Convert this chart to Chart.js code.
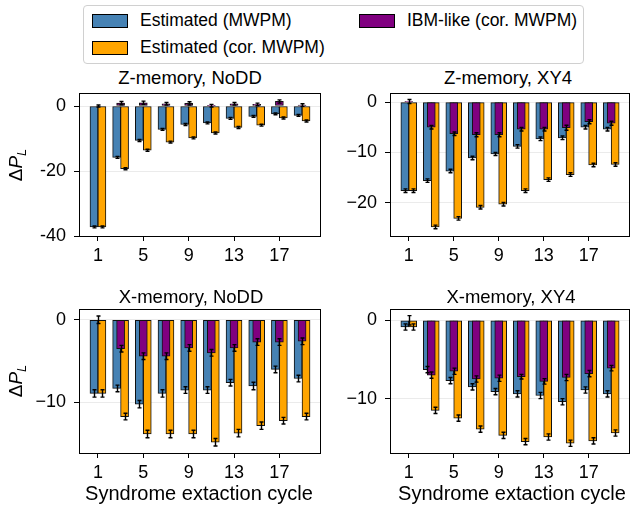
<!DOCTYPE html>
<html>
<head>
<meta charset="utf-8">
<script src="https://cdn.jsdelivr.net/npm/chart.js@4.4.1/dist/chart.umd.min.js"></script>
<style>
  body { margin: 0; background: #fff; }
  #wrap { position: relative; width: 632px; height: 506px; overflow: hidden;
          font-family: "Liberation Sans", Arial, sans-serif; color: #000; }
  canvas { position: absolute; }
  .txt { position: absolute; white-space: nowrap; line-height: 20px; }
  .title { font-size: 18.5px; transform: translateX(-50%); }
  .xlab { font-size: 20px; transform: translateX(-50%); }
  .ylab { font-size: 19px; transform: translate(-50%, -50%) rotate(-90deg); }
  .ylab i { font-style: italic; }
  .ylab sub { font-size: 13px; font-style: italic; vertical-align: -4px; }
  #legend { position: absolute; left: 83px; top: 5px; width: 499px; height: 57px;
            border: 1px solid #d0d0d0; border-radius: 4px; }
  .patch { position: absolute; width: 34px; height: 12px; border: 1px solid #000; }
  .ltext { position: absolute; font-size: 17.5px; line-height: 20px; white-space: nowrap; }
</style>
</head>
<body>
<div id="wrap">
  <div id="legend"></div>
  <canvas id="c1" width="330" height="183" style="left:0px;top:88px"></canvas>
  <canvas id="c2" width="302" height="183" style="left:330px;top:88px"></canvas>
  <canvas id="c3" width="330" height="184" style="left:0px;top:304px"></canvas>
  <canvas id="c4" width="302" height="184" style="left:330px;top:304px"></canvas>
</div>
<script>
document.addEventListener('DOMContentLoaded', function () {

    // --- DATA ---
    const cycles = [1, 3, 5, 7, 9, 11, 13, 15, 17, 19];
    const xTickValues = [1, 5, 9, 13, 17];
    const seriesNames = ['Estimated (MWPM)', 'Estimated (cor. MWPM)', 'IBM-like (cor. MWPM)'];
    const seriesColors = ['#4682b4', '#ffa500', '#800080'];

    // Z-memory, NoDD
    const zNoDD_mwpm = [-37.2, -15.8, -10.6, -7.2, -5.7, -5.2, -3.8, -3.2, -2.4, -2.9];
    const zNoDD_cor  = [-37.2, -19.3, -13.6, -11.1, -9.8, -8.3, -6.6, -5.9, -3.7, -4.6];
    const zNoDD_ibm  = [0.0, 0.9, 1.0, 0.7, 0.8, 0.1, 0.7, 0.5, 1.4, 0.3];
    const zNoDD_mwpmErr = [0.3, 0.3, 0.3, 0.3, 0.3, 0.3, 0.3, 0.3, 0.3, 0.3];
    const zNoDD_corErr  = [0.3, 0.3, 0.3, 0.3, 0.3, 0.3, 0.3, 0.3, 0.3, 0.3];
    const zNoDD_ibmErr  = [0.3, 0.5, 0.5, 0.4, 0.5, 0.4, 0.4, 0.4, 0.5, 0.4];

    // Z-memory, XY4
    const zXY4_mwpm = [-17.6, -15.6, -13.7, -11.1, -10.3, -8.8, -7.3, -7.1, -5.0, -5.4];
    const zXY4_cor  = [-17.6, -24.8, -23.1, -20.9, -20.3, -17.6, -15.4, -14.4, -12.5, -12.4];
    const zXY4_ibm  = [0.1, -5.0, -6.3, -6.5, -6.5, -5.4, -5.4, -5.1, -3.9, -4.2];
    const zXY4_mwpmErr = [0.35, 0.35, 0.35, 0.35, 0.3, 0.35, 0.35, 0.35, 0.35, 0.35];
    const zXY4_corErr  = [0.35, 0.35, 0.35, 0.35, 0.35, 0.35, 0.35, 0.35, 0.35, 0.35];
    const zXY4_ibmErr  = [0.4, 0.35, 0.35, 0.4, 0.4, 0.35, 0.35, 0.5, 0.4, 0.4];

    // X-memory, NoDD
    const xNoDD_mwpm = [-8.9, -8.3, -10.2, -8.9, -8.5, -8.5, -7.6, -8.0, -6.0, -7.1];
    const xNoDD_cor  = [-8.9, -11.7, -13.8, -13.8, -13.8, -14.8, -13.7, -12.8, -12.2, -11.7];
    const xNoDD_ibm  = [0.0, -3.5, -4.4, -4.4, -3.4, -4.0, -3.4, -2.7, -2.7, -2.6];
    const xNoDD_mwpmErr = [0.45, 0.4, 0.45, 0.45, 0.4, 0.4, 0.4, 0.45, 0.4, 0.4];
    const xNoDD_corErr  = [0.45, 0.4, 0.45, 0.45, 0.45, 0.45, 0.45, 0.45, 0.4, 0.4];
    const xNoDD_ibmErr  = [0.45, 0.4, 0.4, 0.4, 0.4, 0.4, 0.4, 0.4, 0.4, 0.4];

    // X-memory, XY4
    const xXY4_mwpm = [-0.85, -6.3, -7.7, -8.5, -9.1, -9.4, -9.6, -10.4, -8.9, -9.4];
    const xXY4_cor  = [-0.85, -11.5, -12.5, -13.9, -14.7, -15.5, -14.9, -15.7, -15.4, -14.4];
    const xXY4_ibm  = [0.0, -7.0, -6.5, -7.5, -7.4, -7.2, -7.8, -7.3, -6.8, -6.1];
    const xXY4_mwpmErr = [0.4, 0.4, 0.4, 0.4, 0.4, 0.4, 0.4, 0.4, 0.4, 0.4];
    const xXY4_corErr  = [0.4, 0.4, 0.4, 0.4, 0.4, 0.4, 0.4, 0.4, 0.4, 0.4];
    const xXY4_ibmErr  = [0.6, 0.4, 0.4, 0.4, 0.4, 0.3, 0.35, 0.4, 0.4, 0.35];

    const panels = [
        { canvas: 'c1', title: 'Z-memory, NoDD', yMin: -40, yMax: 4, yTicks: [-40, -20, 0], minus: '-',
          vals: [zNoDD_mwpm, zNoDD_cor, zNoDD_ibm], errs: [zNoDD_mwpmErr, zNoDD_corErr, zNoDD_ibmErr],
          yAxisWidth: 79, padRight: 9, titleX: 190, titleY: 68 },
        { canvas: 'c2', title: 'Z-memory, XY4', yMin: -26.6, yMax: 1.8, yTicks: [-20, -10, 0], minus: '\u2212',
          vals: [zXY4_mwpm, zXY4_cor, zXY4_ibm], errs: [zXY4_mwpmErr, zXY4_corErr, zXY4_ibmErr],
          yAxisWidth: 60, padRight: 2, titleX: 508, titleY: 68 },
        { canvas: 'c3', title: 'X-memory, NoDD', yMin: -16.1, yMax: 1.3, yTicks: [-10, 0], minus: '\u2212',
          vals: [xNoDD_mwpm, xNoDD_cor, xNoDD_ibm], errs: [xNoDD_mwpmErr, xNoDD_corErr, xNoDD_ibmErr],
          yAxisWidth: 79, padRight: 9, titleX: 191, titleY: 287 },
        { canvas: 'c4', title: 'X-memory, XY4', yMin: -16.95, yMax: 1.45, yTicks: [-10, 0], minus: '\u2212',
          vals: [xXY4_mwpm, xXY4_cor, xXY4_ibm], errs: [xXY4_mwpmErr, xXY4_corErr, xXY4_ibmErr],
          yAxisWidth: 60, padRight: 2, titleX: 511, titleY: 287 }
    ];

    // bar offsets inside a group (blue left, orange right, purple centred)
    const barOffsets = [-0.35, 0.35, 0];

    // --- PLUGINS ---
    const errorBarPlugin = {
        id: 'errorBars',
        afterDatasetsDraw(chart) {
            const { ctx, scales: { y } } = chart;
            ctx.save();
            ctx.strokeStyle = '#000';
            ctx.lineWidth = 1.4;
            chart.data.datasets.forEach((ds, i) => {
                const meta = chart.getDatasetMeta(i);
                meta.data.forEach((bar, j) => {
                    const v = ds.data[j].y, e = ds.errors[j];
                    const x = Math.round(bar.x) + 0.5;
                    const top = y.getPixelForValue(v + e), bot = y.getPixelForValue(v - e);
                    ctx.beginPath();
                    ctx.moveTo(x, top); ctx.lineTo(x, bot);
                    ctx.moveTo(x - 2, top); ctx.lineTo(x + 2, top);
                    ctx.moveTo(x - 2, bot); ctx.lineTo(x + 2, bot);
                    ctx.stroke();
                });
            });
            ctx.restore();
        }
    };

    const framePlugin = {
        id: 'frame',
        afterDraw(chart) {
            const { ctx, chartArea: a } = chart;
            ctx.save();
            ctx.strokeStyle = '#000';
            ctx.lineWidth = 1;
            ctx.strokeRect(Math.round(a.left) + 0.5, Math.round(a.top) + 0.5,
                           Math.round(a.right - a.left) - 1, Math.round(a.bottom - a.top));
            ctx.restore();
        }
    };

    // --- CHARTS ---
    const wrap = document.getElementById('wrap');

    function addText(cls, html, left, top) {
        const d = document.createElement('div');
        d.className = 'txt ' + cls;
        d.innerHTML = html;
        d.style.left = left + 'px';
        d.style.top = top + 'px';
        wrap.appendChild(d);
        return d;
    }

    panels.forEach(p => {
        // order 2,1,0 so the purple bars are painted last (on top)
        const datasets = [2, 1, 0].map(k => ({
            label: seriesNames[k],
            data: cycles.map((c, j) => ({ x: c + barOffsets[k], y: p.vals[k][j] })),
            errors: p.errs[k],
            backgroundColor: seriesColors[k],
            borderColor: '#111',
            borderWidth: 1,
            borderSkipped: false,
            barThickness: 8,
            grouped: false
        }));

        new Chart(document.getElementById(p.canvas), {
            type: 'bar',
            data: { datasets: datasets },
            options: {
                responsive: false,
                animation: false,
                layout: { padding: { top: 5, right: p.padRight, left: 0, bottom: 0 } },
                plugins: { legend: { display: false }, tooltip: { enabled: false } },
                scales: {
                    x: {
                        type: 'linear', min: -0.67, max: 20.67, offset: false,
                        afterBuildTicks: s => { s.ticks = xTickValues.map(v => ({ value: v })); },
                        afterFit: s => { s.height = 35; s.paddingLeft = 0; s.paddingRight = 0; },
                        border: { display: false },
                        grid: { offset: false, drawOnChartArea: false, drawTicks: true, tickLength: 5, tickColor: '#000' },
                        ticks: { autoSkip: false, maxRotation: 0, padding: 4, color: '#000',
                                 font: { family: 'Liberation Sans', size: 18 } }
                    },
                    y: {
                        min: p.yMin, max: p.yMax,
                        afterBuildTicks: s => { s.ticks = p.yTicks.map(v => ({ value: v })); },
                        afterFit: s => { s.width = p.yAxisWidth; s.paddingTop = 0; s.paddingBottom = 0; },
                        border: { display: false },
                        grid: { color: '#ebebeb', tickColor: '#000', tickLength: 5, lineWidth: 1 },
                        ticks: { padding: 8, color: '#000', font: { family: 'Liberation Sans', size: 18 },
                                 callback: v => (v < 0 ? p.minus + Math.abs(v) : String(v)) }
                    }
                }
            },
            plugins: [errorBarPlugin, framePlugin]
        });

        addText('title', p.title, p.titleX, p.titleY);
    });

    // axis labels
    addText('ylab', '\u0394<i>P</i><sub>L</sub>', 19, 165);
    addText('ylab', '\u0394<i>P</i><sub>L</sub>', 19, 381);
    addText('xlab', 'Syndrome extaction cycle', 199, 483);
    addText('xlab', 'Syndrome extaction cycle', 512, 483);

    // legend (matplotlib column-first order, 2 columns)
    const legend = document.getElementById('legend');
    const legendPos = [[8, 8], [8, 35], [275, 8]];
    seriesNames.forEach((name, k) => {
        const patch = document.createElement('div');
        patch.className = 'patch';
        patch.style.background = seriesColors[k];
        patch.style.left = legendPos[k][0] + 'px';
        patch.style.top = legendPos[k][1] + 'px';
        legend.appendChild(patch);
        const t = document.createElement('div');
        t.className = 'ltext';
        t.textContent = name;
        t.style.left = (legendPos[k][0] + 48) + 'px';
        t.style.top = (legendPos[k][1] - 4) + 'px';
        legend.appendChild(t);
    });
});
</script>
</body>
</html>
